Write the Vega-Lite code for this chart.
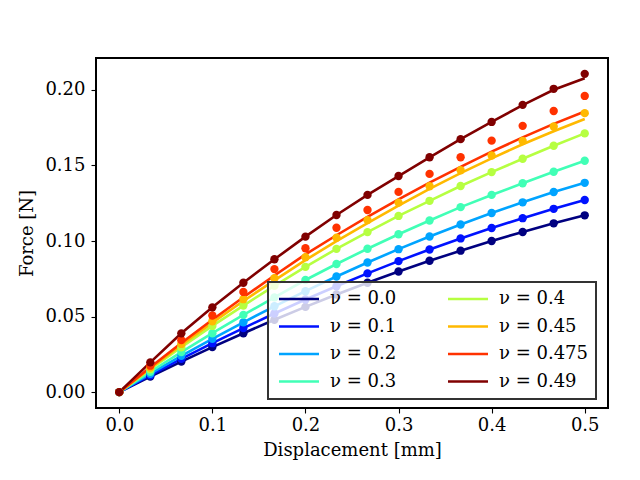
{
  "$schema": "https://vega.github.io/schema/vega-lite/v6.json",
  "width": 512,
  "height": 350,
  "autosize": "none",
  "padding": {"left": 96, "top": 58, "right": 32, "bottom": 72},
  "background": "white",
  "config": {
    "font": "DejaVu Serif",
    "view": {"stroke": "black", "strokeWidth": 2},
    "axis": {
      "domain": false,
      "grid": false,
      "ticks": true,
      "tickSize": 5,
      "tickColor": "black",
      "tickWidth": 1.1,
      "labelFont": "DejaVu Serif",
      "labelFontSize": 18,
      "labelColor": "black",
      "titleFont": "DejaVu Serif",
      "titleFontSize": 18,
      "titleFontWeight": "normal",
      "titleColor": "black"
    }
  },
  "data": {
    "values": [
      {"nu": "ν = 0.0", "d": 0, "f": 0, "fit": 0},
      {"nu": "ν = 0.0", "d": 0.03333, "f": 0.0103, "fit": 0.0103},
      {"nu": "ν = 0.0", "d": 0.06667, "f": 0.0202, "fit": 0.0202},
      {"nu": "ν = 0.0", "d": 0.1, "f": 0.0298, "fit": 0.0298},
      {"nu": "ν = 0.0", "d": 0.13333, "f": 0.039, "fit": 0.039},
      {"nu": "ν = 0.0", "d": 0.16667, "f": 0.0479, "fit": 0.0479},
      {"nu": "ν = 0.0", "d": 0.2, "f": 0.0564, "fit": 0.0564},
      {"nu": "ν = 0.0", "d": 0.23333, "f": 0.0646, "fit": 0.0646},
      {"nu": "ν = 0.0", "d": 0.26667, "f": 0.0724, "fit": 0.0724},
      {"nu": "ν = 0.0", "d": 0.3, "f": 0.0798, "fit": 0.0798},
      {"nu": "ν = 0.0", "d": 0.33333, "f": 0.0869, "fit": 0.0869},
      {"nu": "ν = 0.0", "d": 0.36667, "f": 0.0936, "fit": 0.0936},
      {"nu": "ν = 0.0", "d": 0.4, "f": 0.1, "fit": 0.1},
      {"nu": "ν = 0.0", "d": 0.43333, "f": 0.106, "fit": 0.106},
      {"nu": "ν = 0.0", "d": 0.46667, "f": 0.1117, "fit": 0.1117},
      {"nu": "ν = 0.0", "d": 0.5, "f": 0.117, "fit": 0.117},

      {"nu": "ν = 0.1", "d": 0, "f": 0, "fit": 0},
      {"nu": "ν = 0.1", "d": 0.03333, "f": 0.0112, "fit": 0.0112},
      {"nu": "ν = 0.1", "d": 0.06667, "f": 0.022, "fit": 0.022},
      {"nu": "ν = 0.1", "d": 0.1, "f": 0.0324, "fit": 0.0324},
      {"nu": "ν = 0.1", "d": 0.13333, "f": 0.0424, "fit": 0.0424},
      {"nu": "ν = 0.1", "d": 0.16667, "f": 0.052, "fit": 0.052},
      {"nu": "ν = 0.1", "d": 0.2, "f": 0.0613, "fit": 0.0613},
      {"nu": "ν = 0.1", "d": 0.23333, "f": 0.0701, "fit": 0.0701},
      {"nu": "ν = 0.1", "d": 0.26667, "f": 0.0786, "fit": 0.0786},
      {"nu": "ν = 0.1", "d": 0.3, "f": 0.0867, "fit": 0.0867},
      {"nu": "ν = 0.1", "d": 0.33333, "f": 0.0944, "fit": 0.0944},
      {"nu": "ν = 0.1", "d": 0.36667, "f": 0.1017, "fit": 0.1017},
      {"nu": "ν = 0.1", "d": 0.4, "f": 0.1086, "fit": 0.1086},
      {"nu": "ν = 0.1", "d": 0.43333, "f": 0.1151, "fit": 0.1151},
      {"nu": "ν = 0.1", "d": 0.46667, "f": 0.1213, "fit": 0.1213},
      {"nu": "ν = 0.1", "d": 0.5, "f": 0.1271, "fit": 0.1271},

      {"nu": "ν = 0.2", "d": 0, "f": 0, "fit": 0},
      {"nu": "ν = 0.2", "d": 0.03333, "f": 0.0122, "fit": 0.0122},
      {"nu": "ν = 0.2", "d": 0.06667, "f": 0.024, "fit": 0.024},
      {"nu": "ν = 0.2", "d": 0.1, "f": 0.0353, "fit": 0.0353},
      {"nu": "ν = 0.2", "d": 0.13333, "f": 0.0462, "fit": 0.0462},
      {"nu": "ν = 0.2", "d": 0.16667, "f": 0.0568, "fit": 0.0568},
      {"nu": "ν = 0.2", "d": 0.2, "f": 0.0668, "fit": 0.0668},
      {"nu": "ν = 0.2", "d": 0.23333, "f": 0.0765, "fit": 0.0765},
      {"nu": "ν = 0.2", "d": 0.26667, "f": 0.0858, "fit": 0.0858},
      {"nu": "ν = 0.2", "d": 0.3, "f": 0.0946, "fit": 0.0946},
      {"nu": "ν = 0.2", "d": 0.33333, "f": 0.103, "fit": 0.103},
      {"nu": "ν = 0.2", "d": 0.36667, "f": 0.1109, "fit": 0.1109},
      {"nu": "ν = 0.2", "d": 0.4, "f": 0.1185, "fit": 0.1185},
      {"nu": "ν = 0.2", "d": 0.43333, "f": 0.1256, "fit": 0.1256},
      {"nu": "ν = 0.2", "d": 0.46667, "f": 0.1324, "fit": 0.1324},
      {"nu": "ν = 0.2", "d": 0.5, "f": 0.1385, "fit": 0.1385},

      {"nu": "ν = 0.3", "d": 0, "f": 0, "fit": 0},
      {"nu": "ν = 0.3", "d": 0.03333, "f": 0.0135, "fit": 0.0135},
      {"nu": "ν = 0.3", "d": 0.06667, "f": 0.0265, "fit": 0.0265},
      {"nu": "ν = 0.3", "d": 0.1, "f": 0.039, "fit": 0.039},
      {"nu": "ν = 0.3", "d": 0.13333, "f": 0.0511, "fit": 0.0511},
      {"nu": "ν = 0.3", "d": 0.16667, "f": 0.0627, "fit": 0.0627},
      {"nu": "ν = 0.3", "d": 0.2, "f": 0.0742, "fit": 0.0742},
      {"nu": "ν = 0.3", "d": 0.23333, "f": 0.0848, "fit": 0.0848},
      {"nu": "ν = 0.3", "d": 0.26667, "f": 0.0949, "fit": 0.0949},
      {"nu": "ν = 0.3", "d": 0.3, "f": 0.1045, "fit": 0.1045},
      {"nu": "ν = 0.3", "d": 0.33333, "f": 0.1136, "fit": 0.1136},
      {"nu": "ν = 0.3", "d": 0.36667, "f": 0.1224, "fit": 0.1224},
      {"nu": "ν = 0.3", "d": 0.4, "f": 0.1305, "fit": 0.1305},
      {"nu": "ν = 0.3", "d": 0.43333, "f": 0.1382, "fit": 0.1382},
      {"nu": "ν = 0.3", "d": 0.46667, "f": 0.1458, "fit": 0.1458},
      {"nu": "ν = 0.3", "d": 0.5, "f": 0.1531, "fit": 0.1531},

      {"nu": "ν = 0.4", "d": 0, "f": 0, "fit": 0},
      {"nu": "ν = 0.4", "d": 0.03333, "f": 0.0151, "fit": 0.0151},
      {"nu": "ν = 0.4", "d": 0.06667, "f": 0.0297, "fit": 0.0297},
      {"nu": "ν = 0.4", "d": 0.1, "f": 0.0438, "fit": 0.0438},
      {"nu": "ν = 0.4", "d": 0.13333, "f": 0.0573, "fit": 0.0573},
      {"nu": "ν = 0.4", "d": 0.16667, "f": 0.0703, "fit": 0.0703},
      {"nu": "ν = 0.4", "d": 0.2, "f": 0.0829, "fit": 0.0829},
      {"nu": "ν = 0.4", "d": 0.23333, "f": 0.0948, "fit": 0.0948},
      {"nu": "ν = 0.4", "d": 0.26667, "f": 0.1059, "fit": 0.1059},
      {"nu": "ν = 0.4", "d": 0.3, "f": 0.1166, "fit": 0.1166},
      {"nu": "ν = 0.4", "d": 0.33333, "f": 0.1266, "fit": 0.1266},
      {"nu": "ν = 0.4", "d": 0.36667, "f": 0.1364, "fit": 0.1364},
      {"nu": "ν = 0.4", "d": 0.4, "f": 0.1456, "fit": 0.1456},
      {"nu": "ν = 0.4", "d": 0.43333, "f": 0.1544, "fit": 0.1544},
      {"nu": "ν = 0.4", "d": 0.46667, "f": 0.163, "fit": 0.163},
      {"nu": "ν = 0.4", "d": 0.5, "f": 0.1712, "fit": 0.1712},

      {"nu": "ν = 0.45", "d": 0, "f": 0, "fit": 0},
      {"nu": "ν = 0.45", "d": 0.03333, "f": 0.0162, "fit": 0.0159},
      {"nu": "ν = 0.45", "d": 0.06667, "f": 0.0319, "fit": 0.0312},
      {"nu": "ν = 0.45", "d": 0.1, "f": 0.0469, "fit": 0.046},
      {"nu": "ν = 0.45", "d": 0.13333, "f": 0.0615, "fit": 0.0603},
      {"nu": "ν = 0.45", "d": 0.16667, "f": 0.0754, "fit": 0.074},
      {"nu": "ν = 0.45", "d": 0.2, "f": 0.0893, "fit": 0.0874},
      {"nu": "ν = 0.45", "d": 0.23333, "f": 0.1022, "fit": 0.0999},
      {"nu": "ν = 0.45", "d": 0.26667, "f": 0.1138, "fit": 0.1119},
      {"nu": "ν = 0.45", "d": 0.3, "f": 0.1254, "fit": 0.1234},
      {"nu": "ν = 0.45", "d": 0.33333, "f": 0.1362, "fit": 0.1345},
      {"nu": "ν = 0.45", "d": 0.36667, "f": 0.1468, "fit": 0.1449},
      {"nu": "ν = 0.45", "d": 0.4, "f": 0.1566, "fit": 0.1547},
      {"nu": "ν = 0.45", "d": 0.43333, "f": 0.1662, "fit": 0.164},
      {"nu": "ν = 0.45", "d": 0.46667, "f": 0.1758, "fit": 0.1726},
      {"nu": "ν = 0.45", "d": 0.5, "f": 0.1846, "fit": 0.1807},

      {"nu": "ν = 0.475", "d": 0, "f": 0, "fit": 0},
      {"nu": "ν = 0.475", "d": 0.03333, "f": 0.0175, "fit": 0.0165},
      {"nu": "ν = 0.475", "d": 0.06667, "f": 0.0344, "fit": 0.0325},
      {"nu": "ν = 0.475", "d": 0.1, "f": 0.0507, "fit": 0.0479},
      {"nu": "ν = 0.475", "d": 0.13333, "f": 0.0663, "fit": 0.0628},
      {"nu": "ν = 0.475", "d": 0.16667, "f": 0.0814, "fit": 0.0772},
      {"nu": "ν = 0.475", "d": 0.2, "f": 0.0952, "fit": 0.0912},
      {"nu": "ν = 0.475", "d": 0.23333, "f": 0.1088, "fit": 0.1038},
      {"nu": "ν = 0.475", "d": 0.26667, "f": 0.1205, "fit": 0.1159},
      {"nu": "ν = 0.475", "d": 0.3, "f": 0.1325, "fit": 0.1275},
      {"nu": "ν = 0.475", "d": 0.33333, "f": 0.1444, "fit": 0.1386},
      {"nu": "ν = 0.475", "d": 0.36667, "f": 0.1554, "fit": 0.1491},
      {"nu": "ν = 0.475", "d": 0.4, "f": 0.1664, "fit": 0.1591},
      {"nu": "ν = 0.475", "d": 0.43333, "f": 0.1762, "fit": 0.1686},
      {"nu": "ν = 0.475", "d": 0.46667, "f": 0.186, "fit": 0.1775},
      {"nu": "ν = 0.475", "d": 0.5, "f": 0.196, "fit": 0.1857},

      {"nu": "ν = 0.49", "d": 0, "f": 0, "fit": 0},
      {"nu": "ν = 0.49", "d": 0.03333, "f": 0.0197, "fit": 0.0197},
      {"nu": "ν = 0.49", "d": 0.06667, "f": 0.0389, "fit": 0.0389},
      {"nu": "ν = 0.49", "d": 0.1, "f": 0.0561, "fit": 0.0561},
      {"nu": "ν = 0.49", "d": 0.13333, "f": 0.0724, "fit": 0.0724},
      {"nu": "ν = 0.49", "d": 0.16667, "f": 0.0879, "fit": 0.0879},
      {"nu": "ν = 0.49", "d": 0.2, "f": 0.1029, "fit": 0.1029},
      {"nu": "ν = 0.49", "d": 0.23333, "f": 0.1172, "fit": 0.1172},
      {"nu": "ν = 0.49", "d": 0.26667, "f": 0.1305, "fit": 0.1305},
      {"nu": "ν = 0.49", "d": 0.3, "f": 0.143, "fit": 0.143},
      {"nu": "ν = 0.49", "d": 0.33333, "f": 0.1554, "fit": 0.1554},
      {"nu": "ν = 0.49", "d": 0.36667, "f": 0.1674, "fit": 0.1674},
      {"nu": "ν = 0.49", "d": 0.4, "f": 0.1788, "fit": 0.1788},
      {"nu": "ν = 0.49", "d": 0.43333, "f": 0.1901, "fit": 0.1899},
      {"nu": "ν = 0.49", "d": 0.46667, "f": 0.2007, "fit": 0.2001},
      {"nu": "ν = 0.49", "d": 0.5, "f": 0.2106, "fit": 0.2077}
    ]
  },
  "encoding": {
    "x": {
      "field": "d",
      "type": "quantitative",
      "title": "Displacement [mm]",
      "scale": {"domain": [-0.025, 0.525], "nice": false, "zero": false},
      "axis": {
        "values": [0, 0.1, 0.2, 0.3, 0.4, 0.5],
        "format": ".1f",
        "labelFont": "DejaVu Serif",
        "titleFont": "DejaVu Serif",
        "labelPadding": 3,
        "titlePadding": 7
      }
    },
    "color": {
      "field": "nu",
      "type": "nominal",
      "scale": {
        "domain": ["ν = 0.0", "ν = 0.1", "ν = 0.2", "ν = 0.3", "ν = 0.4", "ν = 0.45", "ν = 0.475", "ν = 0.49"],
        "range": ["#000080", "#0012ff", "#00a4ff", "#41ffb6", "#b6ff41", "#ffb900", "#ff3200", "#800000"]
      }
    }
  },
  "layer": [
    {
      "mark": {"type": "line", "strokeWidth": 2.6},
      "encoding": {
        "y": {
          "field": "fit",
          "type": "quantitative",
          "title": "Force [N]",
          "scale": {"domain": [-0.0105, 0.2211], "nice": false, "zero": false},
          "axis": {
            "values": [0, 0.05, 0.1, 0.15, 0.2],
            "format": ".2f",
            "labelFont": "DejaVu Serif",
            "titleFont": "DejaVu Serif",
            "labelPadding": 6,
            "titlePadding": 8
          }
        },
        "color": {
          "field": "nu",
          "type": "nominal",
          "legend": {
            "title": null,
            "orient": "none",
            "legendX": 172,
            "legendY": 224,
            "direction": "vertical",
            "columns": 2,
            "columnPadding": 45,
            "rowPadding": 9.5,
            "padding": 8,
            "symbolType": "M-5,0H5",
            "symbolSize": 64,
            "symbolOffset": 14,
            "symbolStrokeWidth": 2.6,
            "labelOffset": 22,
            "labelFont": "DejaVu Serif",
            "labelFontSize": 18,
            "labelColor": "black",
            "fillColor": "rgba(255,255,255,0.8)",
            "strokeColor": "#333333",
            "cornerRadius": 0,
            "encode": {"legend": {"update": {"strokeWidth": {"value": 2}}}}
          }
        }
      }
    },
    {
      "mark": {"type": "circle", "size": 70, "opacity": 1},
      "encoding": {
        "y": {"field": "f", "type": "quantitative"},
        "color": {"field": "nu", "type": "nominal", "legend": null}
      }
    }
  ]
}
